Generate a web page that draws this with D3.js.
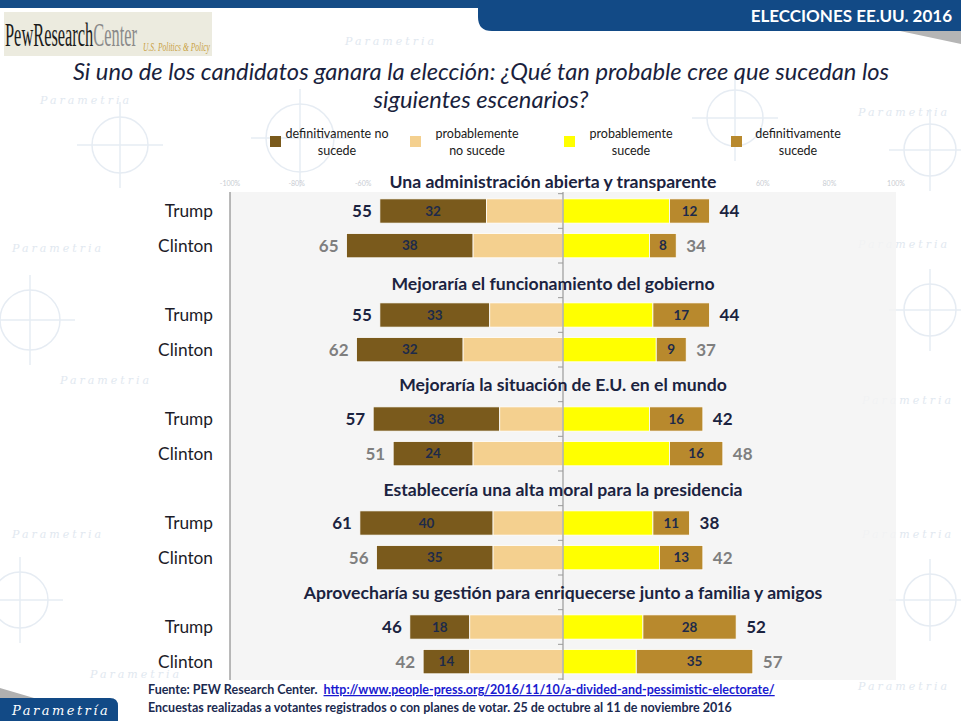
<!DOCTYPE html>
<meta charset="utf-8">
<head>
<style>
  body { margin: 0; background: #fff; }
  svg { display: block; font-family: Lato, "Open Sans", sans-serif; }
  .wm { fill: #e1e8f0; font-family: "DejaVu Serif", serif; font-style: italic; letter-spacing: 3px; }
  .wl { stroke: #e6ecf3; fill: none; stroke-width: 1.5; }
</style>
</head>
<body>
<script src="https://cdn.jsdelivr.net/npm/d3@7"></script>
<script>

// --- data ---
var escenarios = [
  "Una administración abierta y transparente",
  "Mejoraría el funcionamiento del gobierno",
  "Mejoraría la situación de E.U. en el mundo",
  "Establecería una alta moral para la presidencia",
  "Aprovecharía su gestión para enriquecerse junto a familia y amigos"
];
var candidatos = ["Trump", "Clinton"];

// total "no sucede" and the "definitivamente no" part of it
var trumpNoTotal   = [55, 55, 57, 61, 46];
var trumpNoDef     = [32, 33, 38, 40, 18];
var clintonNoTotal = [65, 62, 51, 56, 42];
var clintonNoDef   = [38, 32, 24, 35, 14];
// total "sucede" and the "definitivamente" part of it
var trumpSiTotal   = [44, 44, 42, 38, 52];
var trumpSiDef     = [12, 17, 16, 11, 28];
var clintonSiTotal = [34, 37, 48, 42, 57];
var clintonSiDef   = [8, 9, 16, 13, 35];

var leyenda = [
  ["definitivamente no", "sucede"],
  ["probablemente", "no sucede"],
  ["probablemente", "sucede"],
  ["definitivamente", "sucede"]
];
// only the outer labels of the faint % axis show in the picture
var ejeTicks = [-100, -80, -60, 60, 80, 100];

var colores = ["#7a5a1c", "#f4d08f", "#ffff00", "#b8892d"];

var W = 961, H = 721;
var svg = d3.select("body").append("svg").attr("width", W).attr("height", H);

// ---------- background watermark (decoration) ----------
var bg = svg.append("g");
[[40, 104], [345, 45], [858, 116], [12, 252], [858, 248], [60, 384], [862, 404], [12, 538], [862, 538], [90, 678], [858, 690]]
  .forEach(function (p) {
    bg.append("text").attr("class", "wm").attr("x", p[0]).attr("y", p[1]).attr("font-size", 11).text("Parametria");
  });
[[120, 145, 28], [300, 138, 34], [735, 118, 28], [30, 320, 30], [20, 600, 28], [930, 600, 26], [930, 310, 26], [930, 150, 26]]
  .forEach(function (c) {
    bg.append("circle").attr("class", "wl").attr("cx", c[0]).attr("cy", c[1]).attr("r", c[2]);
    bg.append("line").attr("class", "wl").attr("x1", c[0] - c[2] - 15).attr("x2", c[0] + c[2] + 15).attr("y1", c[1]).attr("y2", c[1]);
    bg.append("line").attr("class", "wl").attr("x1", c[0]).attr("x2", c[0]).attr("y1", c[1] - c[2] - 15).attr("y2", c[1] + c[2] + 15);
  });

// ---------- header ----------
svg.append("rect").attr("x", 0).attr("y", 0).attr("width", 490).attr("height", 8).attr("fill", "#154c86");
svg.append("path")
  .attr("d", "M900,31 L961,31 L961,44 Z")
  .attr("fill", "#b5b5b5");
svg.append("path")
  .attr("d", "M478,0 L961,0 L961,31 L492,31 Q478,31 478,17 Z")
  .attr("fill", "#124a86");
svg.append("text").attr("x", 952).attr("y", 22).attr("text-anchor", "end")
  .attr("fill", "#fff").attr("font-weight", "bold").attr("font-size", 17)
  .text("ELECCIONES EE.UU. 2016");

// Pew logo: condensed by a horizontal scale so its box stays honest
svg.append("rect").attr("x", 4).attr("y", 12).attr("width", 208).attr("height", 44).attr("fill", "#ecebdf");
function squeezed(px, py, width, size, style) {
  var g = svg.append("g");
  var t = g.append("text").attr("font-family", "'Liberation Serif', serif")
    .attr("font-size", size).attr("font-style", style);
  return { g: g, t: t, fit: function () {
    var s = width / t.node().getComputedTextLength();
    g.attr("transform", "translate(" + px + "," + py + ") scale(" + s + ",1)");
  } };
}
var pew = squeezed(5, 46, 132, 33, "normal");
pew.t.append("tspan").attr("fill", "#1b1b1b").text("PewResearch");
pew.t.append("tspan").attr("fill", "#8a8a8a").text("Center");
pew.fit();
var pol = squeezed(143, 51, 67, 12.5, "italic");
pol.t.attr("fill", "#c9a13f").text("U.S. Politics & Policy");
pol.fit();

// main title
var titulo = ["Si uno de los candidatos ganara la elección: ¿Qué tan probable cree que sucedan los",
              "siguientes escenarios?"];
svg.selectAll(".titulo").data(titulo).enter().append("text")
  .attr("x", 481).attr("y", function (d, i) { return 80 + i * 28; })
  .attr("text-anchor", "middle").attr("font-style", "italic").attr("font-size", 23.7)
  .attr("fill", "#1a1f3d").text(function (d) { return d; });

// ---------- legend ----------
var legX = [270, 410, 564, 731];
var legG = svg.selectAll(".leg").data(leyenda).enter().append("g")
  .attr("transform", function (d, i) { return "translate(" + legX[i] + ",0)"; });
legG.append("rect").attr("x", 0).attr("y", 136).attr("width", 11).attr("height", 11)
  .attr("fill", function (d, i) { return colores[i]; });
legG.each(function (d) {
  d3.select(this).selectAll("text").data(d).enter().append("text")
    .attr("x", 67).attr("y", function (t, j) { return 138 + j * 17; })
    .attr("text-anchor", "middle").attr("font-size", 12.5).attr("fill", "#1a1a1a")
    .text(function (t) { return t; });
});

// ---------- chart ----------
var x = d3.scaleLinear().domain([-100, 100]).range([230, 896]);

var rows = [];
escenarios.forEach(function (e, i) {
  rows.push("t" + i);
  candidatos.forEach(function (c) { rows.push(c + i); });
});
var y = d3.scaleBand().domain(rows).range([159, 679]).paddingInner(0.3).paddingOuter(0.15);

var datos = [];
escenarios.forEach(function (e, i) {
  datos.push({ key: "Trump" + i, cand: "Trump", noT: trumpNoTotal[i], noD: trumpNoDef[i], siT: trumpSiTotal[i], siD: trumpSiDef[i] });
  datos.push({ key: "Clinton" + i, cand: "Clinton", noT: clintonNoTotal[i], noD: clintonNoDef[i], siT: clintonSiTotal[i], siD: clintonSiDef[i] });
});

// plot area
svg.append("rect").attr("x", x(-100)).attr("y", 192).attr("width", x(100) - x(-100)).attr("height", 488)
  .attr("fill", "#f3f3f3").attr("opacity", 0.85);

// faint percentage axis on top
svg.append("g").selectAll("text").data(ejeTicks).enter().append("text")
  .attr("x", function (d) { return x(d); }).attr("y", 186)
  .attr("text-anchor", "middle").attr("font-size", 7).attr("fill", "#c8ccd2")
  .text(function (d) { return d + "%"; });

svg.append("line").attr("x1", x(-100)).attr("x2", x(-100)).attr("y1", 192).attr("y2", 680)
  .attr("stroke", "#8c8c8c").attr("stroke-width", 1.2);

// segments
var segs = [];
datos.forEach(function (d) {
  segs.push({ key: d.key, a: -d.noT, b: -d.noT + d.noD, c: 0, lab: d.noD });
  segs.push({ key: d.key, a: -d.noT + d.noD, b: 0, c: 1 });
  segs.push({ key: d.key, a: 0, b: d.siT - d.siD, c: 2 });
  segs.push({ key: d.key, a: d.siT - d.siD, b: d.siT, c: 3, lab: d.siD });
});

svg.append("g").selectAll("rect").data(segs).enter().append("rect")
  .attr("x", function (d) { return x(d.a); })
  .attr("width", function (d) { return x(d.b) - x(d.a); })
  .attr("y", function (d) { return y(d.key); })
  .attr("height", y.bandwidth())
  .attr("fill", function (d) { return colores[d.c]; })
  .attr("stroke", "#fff").attr("stroke-width", 0.8);

svg.append("g").selectAll("text").data(segs.filter(function (d) { return d.lab !== undefined; }))
  .enter().append("text")
  .attr("x", function (d) { return (x(d.a) + x(d.b)) / 2; })
  .attr("y", function (d) { return y(d.key) + y.bandwidth() / 2; })
  .attr("dy", "0.35em").attr("text-anchor", "middle")
  .attr("font-size", 13.5).attr("font-weight", "bold").attr("fill", "#1d2a4a")
  .text(function (d) { return d.lab; });

// center line with ticks
var c0 = x(0);
svg.append("line").attr("x1", c0).attr("x2", c0).attr("y1", 192).attr("y2", 680)
  .attr("stroke", "#9a9a9a").attr("stroke-width", 1.2);
var bordes = rows.slice(1).map(function (r) { return y(r) - y.step() * y.paddingInner() / 2; });
bordes.push(y.range()[1]);
svg.append("g").selectAll("line").data(bordes).enter().append("line")
  .attr("x1", c0 - 5).attr("x2", c0).attr("y1", function (d) { return d; }).attr("y2", function (d) { return d; })
  .attr("stroke", "#9a9a9a");

// totals
function totColor(d) { return d.cand === "Trump" ? "#1b2340" : "#7f7f7f"; }
svg.append("g").selectAll("text").data(datos).enter().append("text")
  .attr("x", function (d) { return x(-d.noT) - 8; })
  .attr("y", function (d) { return y(d.key) + y.bandwidth() / 2; })
  .attr("dy", "0.35em").attr("text-anchor", "end")
  .attr("font-size", 17).attr("font-weight", "bold").attr("fill", totColor)
  .text(function (d) { return d.noT; });
svg.append("g").selectAll("text").data(datos).enter().append("text")
  .attr("x", function (d) { return x(d.siT) + 10; })
  .attr("y", function (d) { return y(d.key) + y.bandwidth() / 2; })
  .attr("dy", "0.35em").attr("text-anchor", "start")
  .attr("font-size", 17).attr("font-weight", "bold").attr("fill", totColor)
  .text(function (d) { return d.siT; });

// candidate labels
svg.append("g").selectAll("text").data(datos).enter().append("text")
  .attr("x", 213)
  .attr("y", function (d) { return y(d.key) + y.bandwidth() / 2; })
  .attr("dy", "0.35em").attr("text-anchor", "end")
  .attr("font-size", 17.3).attr("fill", "#1c1c28")
  .text(function (d) { return d.cand; });

// group titles (text boxes sit slightly differently in the slide)
var tituloX  = [553, 553, 563, 563, 563];
var tituloDy = [6, 4, 1, 2, 1];
svg.append("g").selectAll("text").data(escenarios).enter().append("text")
  .attr("x", function (d, i) { return tituloX[i]; })
  .attr("y", function (d, i) { return y("t" + i) + y.bandwidth() / 2 + tituloDy[i]; })
  .attr("dy", "0.35em").attr("text-anchor", "middle")
  .attr("font-size", 17.6).attr("font-weight", "bold").attr("fill", "#1b2340")
  .text(function (d) { return d; });

// ---------- footer ----------
var f1 = svg.append("text").attr("x", 148).attr("y", 694).attr("font-size", 12.5).attr("font-weight", "bold");
f1.append("tspan").attr("fill", "#1b2a50").text("Fuente: PEW Research Center.\u00a0 ");
f1.append("tspan").attr("fill", "#1a1ad0").attr("text-decoration", "underline")
  .text("http://www.people-press.org/2016/11/10/a-divided-and-pessimistic-electorate/");
svg.append("text").attr("x", 148).attr("y", 712).attr("font-size", 12.5).attr("font-weight", "bold")
  .attr("fill", "#1b2a50")
  .text("Encuestas realizadas a votantes registrados o con planes de votar. 25 de octubre al 11 de noviembre 2016");

// Parametria logo
svg.append("path").attr("d", "M0,688 L34,698 L0,698 Z").attr("fill", "#b0b0b0");
svg.append("path").attr("d", "M0,698 L110,698 Q118,698 118,706 L118,721 L0,721 Z").attr("fill", "#124a86");
svg.append("text").attr("x", 12).attr("y", 715)
  .attr("font-family", "'DejaVu Serif', serif").attr("font-style", "italic").attr("font-size", 13)
  .attr("letter-spacing", 2.5).attr("fill", "#fff").text("Parametría");

</script>
</body>
